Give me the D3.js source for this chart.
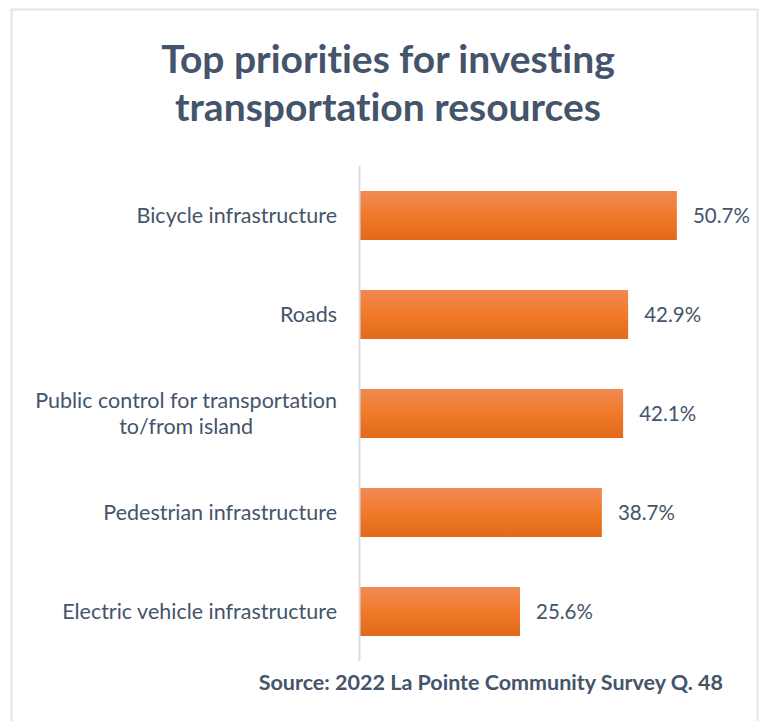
<!DOCTYPE html>
<html>
<head>
<meta charset="utf-8">
<script src="https://cdn.jsdelivr.net/npm/d3@7"></script>
<style>
  html, body { margin: 0; padding: 0; background: #fff; }
  svg { display: block; }
  text { font-variant-ligatures: none; }
</style>
</head>
<body>
<svg id="chart" width="759" height="721"></svg>
<script>
// Survey results: share of respondents naming each priority
const categories = [
  "Bicycle infrastructure",
  "Roads",
  "Public control for transportation\nto/from island",
  "Pedestrian infrastructure",
  "Electric vehicle infrastructure"
];
const values = [50.7, 42.9, 42.1, 38.7, 25.6];
const titleLines = ["Top priorities for investing", "transportation resources"];
const sourceText = "Source: 2022 La Pointe Community Survey Q. 48";

const svg = d3.select("#chart");
const font = "Lato, 'Open Sans', sans-serif";
const textColor = "#44546A";

// Outer frame
svg.append("rect")
  .attr("x", 11.5).attr("y", 9.5)
  .attr("width", 746).attr("height", 730)
  .attr("fill", "#fff")
  .attr("stroke", "#e1e4ea").attr("stroke-width", 2);

// Bar fill gradient
const defs = svg.append("defs");
const grad = defs.append("linearGradient")
  .attr("id", "barGrad").attr("x1", 0).attr("y1", 0).attr("x2", 0).attr("y2", 1);
grad.append("stop").attr("offset", "0%").attr("stop-color", "#f08a54");
grad.append("stop").attr("offset", "50%").attr("stop-color", "#f07a2a");
grad.append("stop").attr("offset", "100%").attr("stop-color", "#e2691a");

// Title
svg.append("text")
  .attr("x", 388).attr("y", 73)
  .attr("text-anchor", "middle")
  .attr("font-family", font).attr("font-weight", 700)
  .attr("font-size", 39).attr("fill", textColor)
  .selectAll("tspan").data(titleLines).join("tspan")
  .attr("x", 388).attr("dy", (d, i) => i === 0 ? 0 : 48)
  .text(d => d);

// Scales
const x0 = 360;
const x = d3.scaleLinear().domain([0, 100]).range([x0, x0 + 625]);
const y = d3.scaleBand().domain(categories).range([166, 661]).paddingInner(0.505).paddingOuter(0.2525);

// Bars
svg.append("g").selectAll("rect").data(values).join("rect")
  .attr("x", x(0))
  .attr("y", (d, i) => y(categories[i]))
  .attr("width", d => x(d) - x(0))
  .attr("height", y.bandwidth())
  .attr("fill", "url(#barGrad)");

// Category axis line
svg.append("line")
  .attr("x1", x0 - 0.5).attr("x2", x0 - 0.5)
  .attr("y1", 166).attr("y2", 661)
  .attr("stroke", "#d9dce3").attr("stroke-width", 2);

// Category labels: right-aligned block, wrapped lines centred on each other
const labelRight = 337;
const lineGap = 26;
const labelGroups = svg.append("g").selectAll("g").data(categories).join("g")
  .attr("transform", d => {
    const n = d.split("\n").length;
    const cy = y(d) + y.bandwidth() / 2 - (n - 1) * lineGap / 2;
    return `translate(0,${cy})`;
  });
labelGroups.each(function (d) {
  const g = d3.select(this);
  const lines = d.split("\n");
  const texts = lines.map((t, i) => g.append("text")
    .attr("y", i * lineGap)
    .attr("dy", "0.35em")
    .attr("font-family", font).attr("font-size", 21.5)
    .attr("fill", textColor)
    .text(t));
  const widths = texts.map(t => t.node().getComputedTextLength());
  const maxW = Math.max(...widths);
  const center = labelRight - maxW / 2;
  texts.forEach(t => t.attr("x", center).attr("text-anchor", "middle"));
});

// Value labels
svg.append("g").selectAll("text").data(values).join("text")
  .attr("x", d => x(d) + 16)
  .attr("y", (d, i) => y(categories[i]) + y.bandwidth() / 2)
  .attr("dy", "0.35em")
  .attr("font-family", font).attr("font-size", 20.5)
  .attr("fill", textColor)
  .text(d => d.toFixed(1) + "%");

// Source note
svg.append("text")
  .attr("x", 723).attr("y", 690)
  .attr("text-anchor", "end")
  .attr("font-family", font).attr("font-weight", 700)
  .attr("font-size", 21.5).attr("fill", textColor)
  .text(sourceText);
</script>
</body>
</html>
